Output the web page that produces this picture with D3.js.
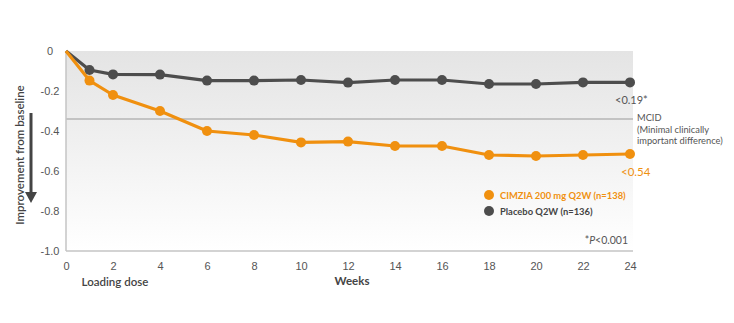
<!DOCTYPE html>
<html><head><meta charset="utf-8">
<script src="https://cdn.jsdelivr.net/npm/d3@7"></script>
<style>body{margin:0;background:#fff}svg{display:block;font-family:Lato,"Open Sans",sans-serif}</style>
</head><body><div id="c"></div>
<script>
const weeks = [0,1,2,4,6,8,10,12,14,16,18,20,22,24];
const cimzia = [0,-0.148,-0.22,-0.30,-0.40,-0.42,-0.457,-0.453,-0.475,-0.475,-0.52,-0.525,-0.52,-0.515];
const placebo = [0,-0.095,-0.117,-0.118,-0.148,-0.148,-0.145,-0.158,-0.145,-0.145,-0.165,-0.165,-0.157,-0.157];
const xTicks = [0,2,4,6,8,10,12,14,16,18,20,22,24];
const yTicks = [0,-0.2,-0.4,-0.6,-0.8,-1.0];
const yTickLabels = ["0","-0.2","-0.4","-0.6","-0.8","-1.0"];
const mcid = -0.34;
const seriesNames = ["CIMZIA 200 mg Q2W (n=138)","Placebo Q2W (n=136)"];
const colors = ["#f0900f","#4d4d4d"];

const W=734,H=323;
const svg=d3.select("#c").append("svg").attr("width",W).attr("height",H);
const x=d3.scaleLinear().domain([0,24]).range([66,630]);
const y=d3.scaleLinear().domain([0,-1]).range([51,251]);

const defs=svg.append("defs");
const g1=defs.append("linearGradient").attr("id","bg").attr("x1",0).attr("y1",0).attr("x2",0).attr("y2",1);
g1.append("stop").attr("offset","0%").attr("stop-color","#e4e4e4");
g1.append("stop").attr("offset","100%").attr("stop-color","#ffffff");
svg.append("rect").attr("x",x(0)).attr("y",y(0)).attr("width",x(24)+3-x(0)).attr("height",y(-1)-y(0)).attr("fill","url(#bg)");

// MCID line
svg.append("line").attr("x1",x(0)).attr("x2",x(24)+3).attr("y1",y(mcid)).attr("y2",y(mcid)).attr("stroke","#b5b5b5").attr("stroke-width",1.5);

// axes
svg.append("line").attr("x1",x(0)).attr("x2",x(0)).attr("y1",y(0)).attr("y2",y(-1)).attr("stroke","#c4c4c4").attr("stroke-width",1.5);
svg.append("line").attr("x1",x(0)).attr("x2",x(24)+3).attr("y1",y(-1)).attr("y2",y(-1)).attr("stroke","#c4c4c4").attr("stroke-width",1.5);

const yAxis=d3.axisLeft(y).tickValues(yTicks).tickFormat((d,i)=>yTickLabels[i]).tickSize(0);
const ya=svg.append("g").attr("transform","translate(50,0)").call(yAxis);
ya.select(".domain").remove();
ya.selectAll("text").attr("text-anchor","middle").attr("dx",0).attr("x",0).attr("fill","#555").style("font-size","11px");

const xAxis=d3.axisBottom(x).tickValues(xTicks).tickSize(0);
const xa=svg.append("g").attr("transform",`translate(0,${y(-1)+8})`).call(xAxis);
xa.select(".domain").remove();
xa.selectAll("text").attr("fill","#555").style("font-size","11px");

// lines
const line=d3.line().x((d,i)=>x(weeks[i])).y(d=>y(d));
[placebo,cimzia].forEach((s,k)=>{
  const c = k===0?colors[1]:colors[0];
  svg.append("path").datum(s).attr("d",line).attr("fill","none").attr("stroke",c).attr("stroke-width",3.2).attr("stroke-linejoin","round");
  svg.selectAll(null).data(s.slice(1)).enter().append("circle")
    .attr("cx",(d,i)=>x(weeks[i+1])).attr("cy",d=>y(d)).attr("r",5).attr("fill",c);
});

// annotations
svg.append("text").attr("x",615).attr("y",104).attr("fill","#555").style("font-size","11px").text("<0.19*");
svg.append("text").attr("x",621).attr("y",176).attr("fill",colors[0]).style("font-size","11.5px").text("<0.54");
const mt=svg.append("text").attr("x",637).attr("fill","#555").style("font-size","9.3px");
["MCID","(Minimal clinically","important difference)"].forEach((t,i)=>mt.append("tspan").attr("x",637).attr("y",121+i*11.5).text(t));

// legend
seriesNames.forEach((n,i)=>{
  const yy=195+i*16;
  svg.append("circle").attr("cx",489).attr("cy",yy).attr("r",5).attr("fill",colors[i]);
  svg.append("text").attr("x",500).attr("y",yy+3.5).attr("fill",i===0?colors[0]:"#444").style("font-size","9.4px").style("font-weight","bold").text(n);
});
const pt=svg.append("text").attr("x",628).attr("y",244).attr("text-anchor","end").attr("fill","#555").style("font-size","10.5px");
pt.append("tspan").text("*");
pt.append("tspan").style("font-style","italic").text("P");
pt.append("tspan").text("<0.001");

// axis titles
svg.append("text").attr("x",115).attr("y",286).attr("text-anchor","middle").attr("fill","#444").style("font-size","11.5px").style("font-weight","600").text("Loading dose");
svg.append("text").attr("x",352).attr("y",285).attr("text-anchor","middle").attr("fill","#444").style("font-size","11.5px").style("font-weight","bold").text("Weeks");
svg.append("text").attr("transform","translate(24,155) rotate(-90)").attr("text-anchor","middle").attr("fill","#444").style("font-size","11.5px").style("font-weight","600").text("Improvement from baseline");

// arrow
svg.append("line").attr("x1",31).attr("x2",31).attr("y1",113).attr("y2",194).attr("stroke","#444").attr("stroke-width",3);
svg.append("path").attr("d","M25,192 L37,192 L31,203 Z").attr("fill","#444");
</script></body></html>
